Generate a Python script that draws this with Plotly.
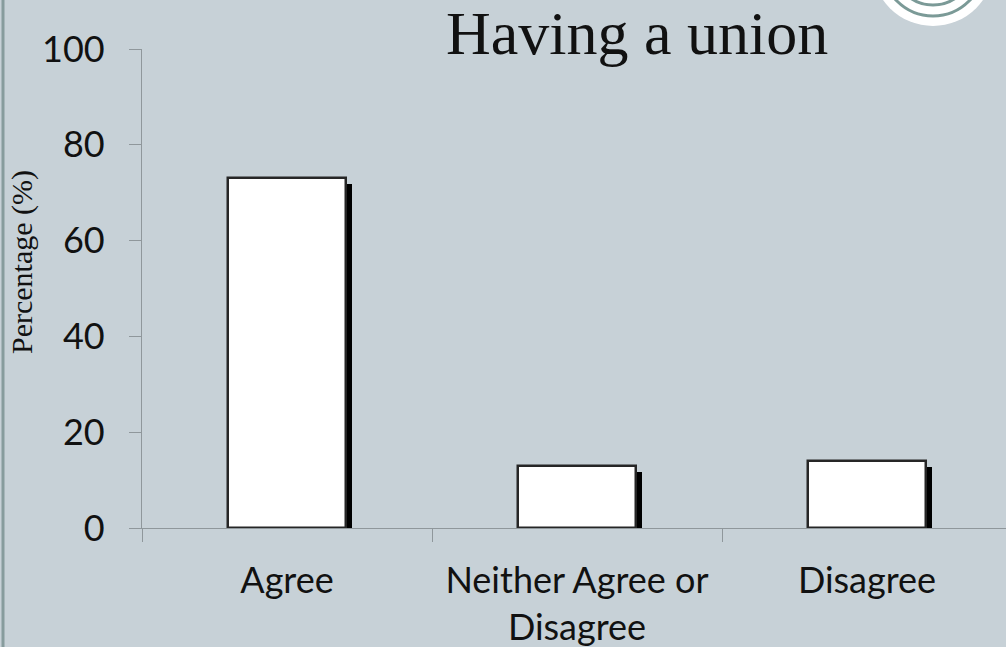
import plotly.graph_objects as go

# Survey responses: "Having a union"
categories = ["Agree", "Neither Agree or Disagree", "Disagree"]
tick_labels = ["Agree", "Neither Agree or<br>Disagree", "Disagree"]
percentages = [73, 13, 14]
y_ticks = [0, 20, 40, 60, 80, 100]

BG = "#c7d1d7"
AXIS = "#8f979b"
BAR_W = 0.407
SHIFT = 0.021      # drop-shadow horizontal shift (category units)
DROP = 1.25        # drop-shadow vertical drop (percentage points)

W, H = 1006, 647
L, R, T, B = 142, 0, 49, 119
PW, PH = W - L - R, H - T - B


def px_x(px):
    return (px - L) / PW


def px_y(py):
    return (H - B - py) / PH


fig = go.Figure()

# black drop shadow behind each bar
fig.add_trace(go.Bar(
    x=categories,
    y=[v - DROP for v in percentages],
    width=BAR_W,
    offset=-BAR_W / 2 + SHIFT,
    marker=dict(color="#000000", line=dict(width=0)),
    hoverinfo="skip",
    showlegend=False,
))

# white bars
fig.add_trace(go.Bar(
    x=categories,
    y=percentages,
    width=BAR_W,
    offset=-BAR_W / 2,
    marker=dict(color="#ffffff", line=dict(color="#262626", width=2.5)),
    showlegend=False,
))

fig.update_layout(
    width=W,
    height=H,
    margin=dict(l=L, r=R, t=T, b=B, pad=0),
    paper_bgcolor=BG,
    plot_bgcolor=BG,
    barmode="overlay",
    bargap=0,
    font=dict(family="Lato", color="#111111"),
)

fig.update_xaxes(
    type="category",
    range=[-0.5, -0.5 + (W - L) / 290],
    tickvals=categories,
    ticktext=tick_labels,
    tickson="boundaries",
    ticks="outside",
    ticklen=13,
    tickwidth=1.3,
    tickcolor=AXIS,
    showline=True,
    linecolor=AXIS,
    linewidth=1.3,
    showgrid=False,
    zeroline=False,
    tickfont=dict(family="Lato", size=36, color="#111111"),
    ticklabelstandoff=21,
)

fig.update_yaxes(
    range=[0, 100],
    tickvals=y_ticks,
    ticks="outside",
    ticklen=12,
    tickwidth=1.3,
    tickcolor=AXIS,
    showline=True,
    linecolor=AXIS,
    linewidth=1.3,
    showgrid=False,
    zeroline=False,
    tickfont=dict(family="Lato", size=36, color="#111111"),
    ticklabelstandoff=17,
)

# title
fig.add_annotation(
    text="Having a union",
    xref="paper", yref="paper",
    x=px_x(637), y=px_y(33),
    xanchor="center", yanchor="middle",
    showarrow=False,
    font=dict(family="Liberation Serif", size=62, color="#111111"),
)

# y-axis title
fig.add_annotation(
    text="Percentage (%)",
    xref="paper", yref="paper",
    x=px_x(22), y=px_y(262),
    xanchor="center", yanchor="middle",
    textangle=-90,
    showarrow=False,
    font=dict(family="Liberation Serif", size=30, color="#111111"),
)

# left border strip
fig.add_shape(
    type="line", xref="paper", yref="paper",
    x0=px_x(3), x1=px_x(3), y0=px_y(0), y1=px_y(H),
    line=dict(color="#879c9d", width=3),
)

# corner emblem: white disc with teal rings
cx, cy = 933, -35
for r, fill, ring in [(61, "#ffffff", None), (51, "rgba(0,0,0,0)", "#7b9a97"),
                      (40, "rgba(0,0,0,0)", "#7b9a97")]:
    fig.add_shape(
        type="circle", xref="paper", yref="paper",
        x0=px_x(cx - r), x1=px_x(cx + r),
        y0=px_y(cy + r), y1=px_y(cy - r),
        fillcolor=fill,
        line=dict(color=ring if ring else fill, width=3 if ring else 0),
        layer="above",
    )

fig.write_html("out.html")
